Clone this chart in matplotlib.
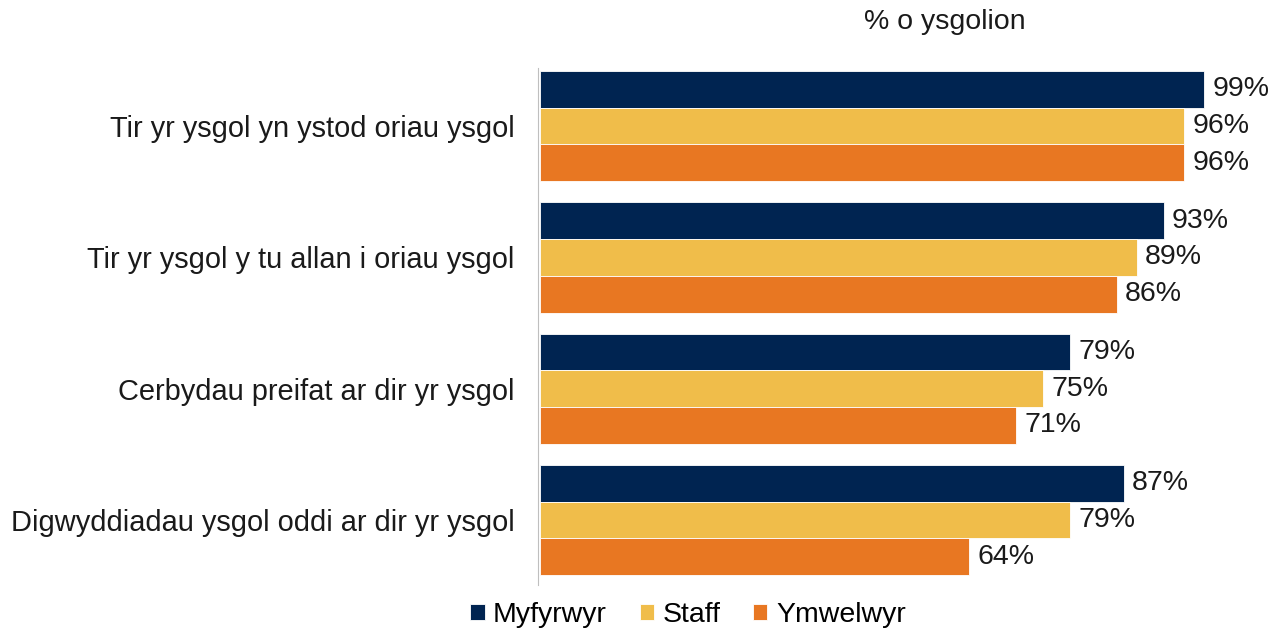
import numpy as np
import matplotlib.pyplot as plt

plt.rcParams['font.family'] = ['Liberation Sans', 'DejaVu Sans']

categories = ['Tir yr ysgol yn ystod oriau ysgol',
              'Tir yr ysgol y tu allan i oriau ysgol',
              'Cerbydau preifat ar dir yr ysgol',
              'Digwyddiadau ysgol oddi ar dir yr ysgol']
series = ['Myfyrwyr', 'Staff', 'Ymwelwyr']
myfyrwyr = [99, 93, 79, 87]
staff = [96, 89, 75, 79]
ymwelwyr = [96, 86, 71, 64]
colors = ['#002451', '#F0BD4A', '#E87722']

fs = 20.5
fig = plt.figure(figsize=(12.74, 6.31), dpi=100)
ax = fig.add_axes([540 / 1274, 1 - 585 / 631, 671 / 1274, 517 / 631])

for s in ['top', 'right', 'bottom']:
    ax.spines[s].set_visible(False)
ax.spines['left'].set_color('#bfbfbf')
ax.spines['left'].set_position(('data', -0.3))

y = np.arange(len(categories))
h = 0.28
for i, (vals, name, c) in enumerate(zip([myfyrwyr, staff, ymwelwyr], series, colors)):
    pos = y + (i - 1) * h
    ax.barh(pos, vals, height=h, color=c, edgecolor='white', linewidth=0.6, label=name)
    for p, v in zip(pos, vals):
        ax.text(v + 1.2, p, f'{v}%', va='center', ha='left', fontsize=fs, color='#1a1a1a')

ax.set_xlim(0, 100)
ax.set_ylim(3.494, -0.441)
ax.set_yticks(y)
ax.set_yticklabels(categories)
ax.tick_params(axis='y', length=0, pad=17, labelsize=20.9, labelcolor='#1a1a1a')
ax.set_xticks([])

fig.text(945 / 1274, 1 - 22 / 631, '% o ysgolion', ha='center', va='center', fontsize=fs, color='#1a1a1a')

leg = fig.legend(loc='center', bbox_to_anchor=(688 / 1274, 1 - 615 / 631), ncol=3, frameon=False,
                 fontsize=fs, handlelength=0.5, handleheight=0.5, handletextpad=0.3, columnspacing=1.15)

fig.savefig('out.png', dpi=100)
